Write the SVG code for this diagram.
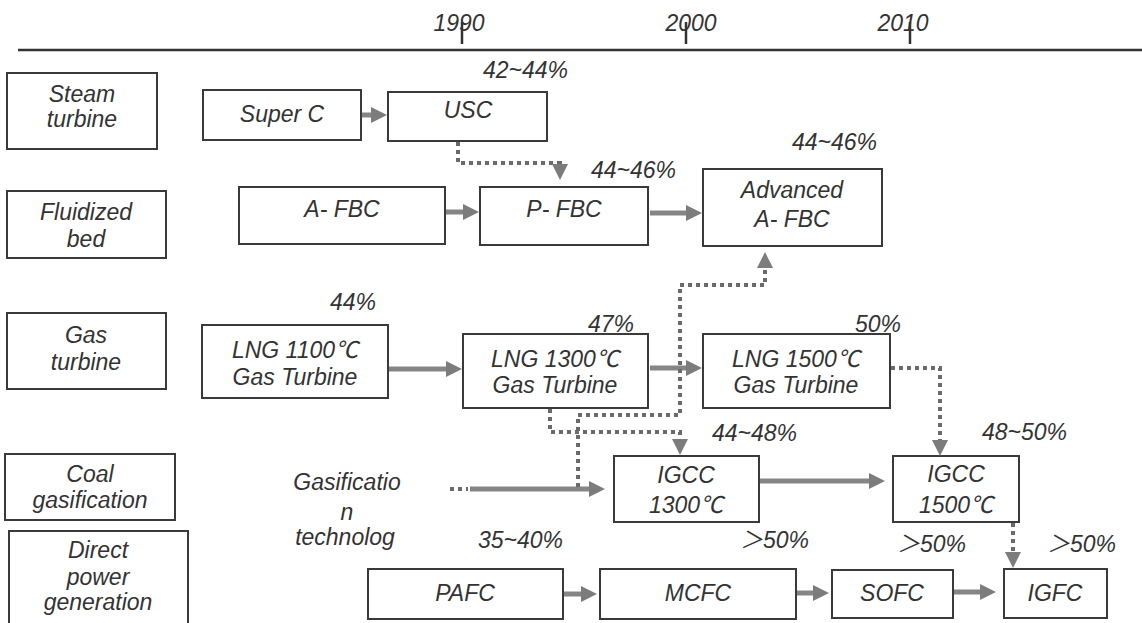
<svg xmlns="http://www.w3.org/2000/svg" width="1142" height="623" viewBox="0 0 1142 623">
<style>
text{font-family:"Liberation Sans",Arial,"Noto Sans CJK JP",sans-serif;font-style:italic;font-size:23px;fill:#333}
.c{text-anchor:middle}
.box{fill:none;stroke:#3a3a3a;stroke-width:2}
.solid{fill:none;stroke:#858585;stroke-width:5;marker-end:url(#ah)}
.dot{fill:none;stroke:#6a6a6a;stroke-width:4;stroke-dasharray:4 4;marker-end:url(#ah)}
.axis{stroke:#333;stroke-width:2.5}
</style>
<defs>
<marker id="ah" viewBox="0 0 16 16" refX="6" refY="8" markerWidth="16" markerHeight="16" markerUnits="userSpaceOnUse" orient="auto">
<path d="M0,0 L16,8 L0,16 z" fill="#7c7c7c"/>
</marker>
</defs>
<rect width="1142" height="623" fill="#fff"/>
<g id="axis">
<line class="axis" x1="18" y1="50" x2="1142" y2="50"/>
<line class="axis" x1="462" y1="22" x2="462" y2="44"/>
<line class="axis" x1="686" y1="22" x2="686" y2="44"/>
<line class="axis" x1="910" y1="22" x2="910" y2="44"/>
<text class="c" x="459" y="31">1990</text>
<text class="c" x="691" y="31">2000</text>
<text class="c" x="903" y="31">2010</text>
</g>
<g id="cat-steam"><rect class="box" x="7" y="73" width="150" height="76"/><text class="c" x="82" y="102">Steam</text><text class="c" x="82" y="127">turbine</text></g>
<g id="cat-fluid"><rect class="box" x="7" y="191" width="159" height="67"/><text class="c" x="86" y="220">Fluidized</text><text class="c" x="86" y="247">bed</text></g>
<g id="cat-gas"><rect class="box" x="7" y="313" width="159" height="76"/><text class="c" x="86" y="343">Gas</text><text class="c" x="86" y="370">turbine</text></g>
<g id="cat-coal"><rect class="box" x="5" y="454" width="170" height="66"/><text class="c" x="90" y="482">Coal</text><text class="c" x="90" y="508">gasification</text></g>
<g id="cat-direct"><rect class="box" x="9" y="531" width="179" height="96"/><text class="c" x="98" y="558">Direct</text><text class="c" x="98" y="585">power</text><text class="c" x="98" y="610">generation</text></g>
<g id="superc"><rect class="box" x="203" y="90" width="158" height="50"/><text class="c" x="282" y="122">Super C</text></g>
<g id="usc"><rect class="box" x="388" y="92" width="159" height="49"/><text class="c" x="468" y="118">USC</text><text x="483" y="78">42~44%</text></g>
<g id="afbc"><rect class="box" x="239" y="187" width="206" height="57"/><text class="c" x="342" y="217">A- FBC</text></g>
<g id="pfbc"><rect class="box" x="480" y="187" width="168" height="58"/><text class="c" x="564" y="217">P- FBC</text><text x="591" y="178">44~46%</text></g>
<g id="advafbc"><rect class="box" x="703" y="169" width="179" height="77"/><text class="c" x="792" y="198">Advanced</text><text class="c" x="792" y="227">A- FBC</text><text x="792" y="150">44~46%</text></g>
<g id="lng1100"><rect class="box" x="202" y="325" width="186" height="73"/><text class="c" x="295" y="358">LNG 1100℃</text><text class="c" x="295" y="385">Gas Turbine</text><text x="330" y="310">44%</text></g>
<g id="lng1300"><rect class="box" x="463" y="334" width="185" height="74"/><text class="c" x="555" y="367">LNG 1300℃</text><text class="c" x="555" y="393">Gas Turbine</text><text x="588" y="332">47%</text></g>
<g id="lng1500"><rect class="box" x="703" y="334" width="187" height="74"/><text class="c" x="796" y="367">LNG 1500℃</text><text class="c" x="796" y="393">Gas Turbine</text><text x="855" y="332">50%</text></g>
<g id="gasification"><text class="c" x="347" y="490">Gasificatio</text><text class="c" x="347" y="520">n</text><text class="c" x="345" y="545">technolog</text></g>
<g id="igcc1300"><rect class="box" x="614" y="456" width="145" height="66"/><text class="c" x="686" y="483">IGCC</text><text class="c" x="686" y="513">1300℃</text><text x="712" y="441">44~48%</text></g>
<g id="igcc1500"><rect class="box" x="893" y="456" width="126" height="66"/><text class="c" x="956" y="482">IGCC</text><text class="c" x="956" y="513">1500℃</text><text x="982" y="440">48~50%</text></g>
<g id="pafc"><rect class="box" x="368" y="569" width="195" height="50"/><text class="c" x="465" y="601">PAFC</text><text x="478" y="548">35~40%</text></g>
<g id="mcfc"><rect class="box" x="600" y="569" width="196" height="50"/><text class="c" x="698" y="601">MCFC</text><text x="740" y="548">＞50%</text></g>
<g id="sofc"><rect class="box" x="832" y="570" width="121" height="48"/><text class="c" x="892" y="601">SOFC</text><text x="897" y="552">＞50%</text></g>
<g id="igfc"><rect class="box" x="1004" y="569" width="103" height="49"/><text class="c" x="1055" y="601">IGFC</text><text x="1047" y="552">＞50%</text></g>
<g id="connectors">
<line class="solid" x1="362" y1="115" x2="377" y2="115"/>
<line class="solid" x1="446" y1="212" x2="469" y2="212"/>
<line class="solid" x1="650" y1="213" x2="692" y2="213"/>
<line class="solid" x1="389" y1="369" x2="452" y2="369"/>
<line class="solid" x1="650" y1="368" x2="692" y2="368"/>
<line class="solid" x1="760" y1="481" x2="875" y2="481"/>
<line x1="450" y1="489" x2="468" y2="489" stroke="#6a6a6a" stroke-width="4" stroke-dasharray="4 4"/>
<line class="solid" x1="470" y1="489" x2="595" y2="489"/>
<line class="solid" x1="564" y1="594" x2="587" y2="594"/>
<line class="solid" x1="797" y1="593" x2="819" y2="593"/>
<line class="solid" x1="954" y1="592" x2="986" y2="592"/>
<path class="dot" d="M458,142 V163 H560 V170"/>
<path class="dot" d="M578,487 V415 H680 V285 H765 V262"/>
<path class="dot" d="M550,409 V432 H680 V445"/>
<path class="dot" d="M891,368 H940 V446"/>
<path class="dot" d="M1013,523 V558"/>
</g>
</svg>
